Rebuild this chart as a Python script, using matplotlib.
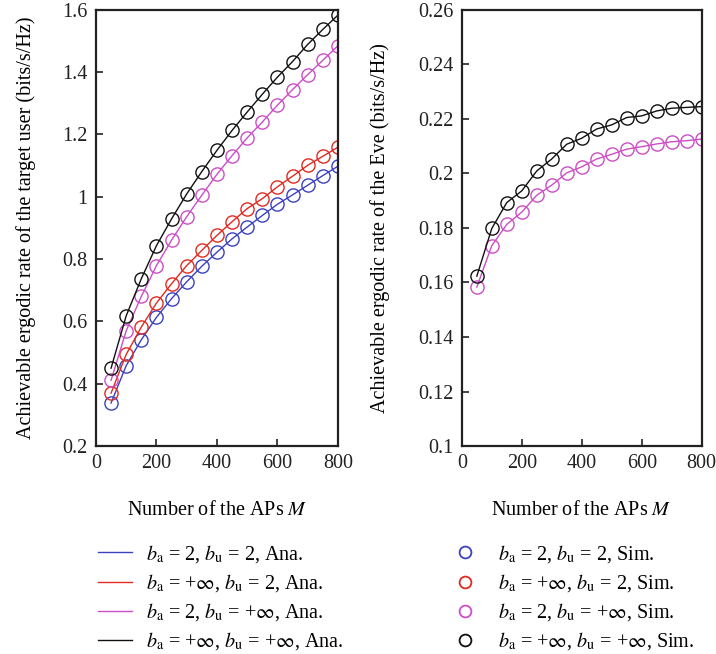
import matplotlib
matplotlib.use('Agg')
import matplotlib.pyplot as plt
from matplotlib.lines import Line2D
import numpy as np

plt.rcParams['font.family'] = ['Liberation Serif', 'DejaVu Serif']
plt.rcParams['mathtext.fontset'] = 'stix'
plt.rcParams['font.size'] = 14.5

# number of APs
M = [50, 100, 150, 200, 250, 300, 350, 400, 450, 500, 550, 600, 650, 700, 750, 800]

# rate of the target user
user_inf_inf = [0.450, 0.618, 0.737, 0.843, 0.929, 1.009, 1.081, 1.149, 1.213, 1.272,
                1.329, 1.384, 1.434, 1.489, 1.537, 1.583]
user_2_inf = [0.411, 0.570, 0.680, 0.779, 0.861, 0.936, 1.005, 1.072, 1.132, 1.189,
              1.240, 1.294, 1.344, 1.392, 1.438, 1.485]
user_inf_2 = [0.370, 0.494, 0.582, 0.659, 0.721, 0.779, 0.828, 0.876, 0.920, 0.962,
              0.994, 1.032, 1.066, 1.101, 1.130, 1.159]
user_2_2 = [0.338, 0.458, 0.541, 0.613, 0.673, 0.727, 0.777, 0.822, 0.865, 0.903,
            0.940, 0.976, 1.006, 1.037, 1.068, 1.098]

# rate of Eve
eve_inf_inf = [0.1623, 0.1798, 0.1893, 0.1936, 0.2009, 0.2053, 0.2107, 0.2129, 0.2163, 0.2178,
               0.2205, 0.2211, 0.2229, 0.2239, 0.2242, 0.2245]
eve_2_inf = [0.1583, 0.1735, 0.1813, 0.1858, 0.1920, 0.1957, 0.2002, 0.2024, 0.2053, 0.2070,
             0.2089, 0.2098, 0.2108, 0.2116, 0.2120, 0.2126]

blue = '#3b41c0'
red = '#e22a20'
mag = '#cc4ec6'
blk = '#111111'

labels = [r'$b_{\rm a}$ = 2, $b_{\rm u}$ = 2',
          r'$b_{\rm a}$ = +$\infty$, $b_{\rm u}$ = 2',
          r'$b_{\rm a}$ = 2, $b_{\rm u}$ = +$\infty$',
          r'$b_{\rm a}$ = +$\infty$, $b_{\rm u}$ = +$\infty$']
colors = [blue, red, mag, blk]

fig = plt.figure(figsize=(7.16, 6.54), dpi=100)
ax1 = fig.add_axes([0.134, 0.318, 0.338, 0.667])
ax2 = fig.add_axes([0.645, 0.318, 0.335, 0.667])

for y, c in zip([user_2_2, user_inf_2, user_2_inf, user_inf_inf], colors):
    ax1.plot(M, y, '-', color=c, lw=1.0, marker='o', ms=9.5, mfc='none', mec=c, mew=1.0)

for y, c in zip([eve_2_inf, eve_inf_inf], [mag, blk]):
    ax2.plot(M, y, '-', color=c, lw=1.0, marker='o', ms=9.5, mfc='none', mec=c, mew=1.0)

ax1.set_xlim(0, 800)
ax1.set_ylim(0.2, 1.6)
ax1.set_yticks([0.2, 0.4, 0.6, 0.8, 1.0, 1.2, 1.4, 1.6])
ax1.set_yticklabels(['0.2', '0.4', '0.6', '0.8', '1', '1.2', '1.4', '1.6'])
ax1.set_ylabel('Achievable ergodic rate of the target user (bits/s/Hz)', labelpad=19)

ax2.set_xlim(0, 800)
ax2.set_ylim(0.1, 0.26)
ax2.set_yticks([0.1, 0.12, 0.14, 0.16, 0.18, 0.2, 0.22, 0.24, 0.26])
ax2.set_yticklabels(['0.1', '0.12', '0.14', '0.16', '0.18', '0.2', '0.22', '0.24', '0.26'])
ax2.set_ylabel('Achievable ergodic rate of the Eve (bits/s/Hz)', labelpad=20)

for ax in (ax1, ax2):
    ax.set_xticks([0, 200, 400, 600, 800])
    ax.set_xlabel('Number of the APs $M$', labelpad=20)
    ax.tick_params(direction='in', length=5, width=1.2, colors='#222222',
                   labelcolor='#222222', labelsize=14.5, pad=6)
    for s in ax.spines.values():
        s.set_linewidth(1.6)
        s.set_color('#222222')

ana = [Line2D([], [], color=c, lw=1.0) for c in colors]
sim = [Line2D([], [], color=c, lw=0, marker='o', ms=8.5, mfc='none', mec=c, mew=1.3)
       for c in colors]

fig.legend(ana, [l + ', Ana.' for l in labels], loc='upper left',
           bbox_to_anchor=(0.125, 0.182), frameon=False, fontsize=14.5,
           handlelength=1.7, handletextpad=0.7, labelspacing=0.36, borderaxespad=0)
fig.legend(sim, [l + ', Sim.' for l in labels], loc='upper left',
           bbox_to_anchor=(0.627, 0.182), frameon=False, fontsize=14.5,
           handlelength=0.8, handletextpad=1.25, labelspacing=0.36, borderaxespad=0)

fig.savefig('out.png', dpi=100)
